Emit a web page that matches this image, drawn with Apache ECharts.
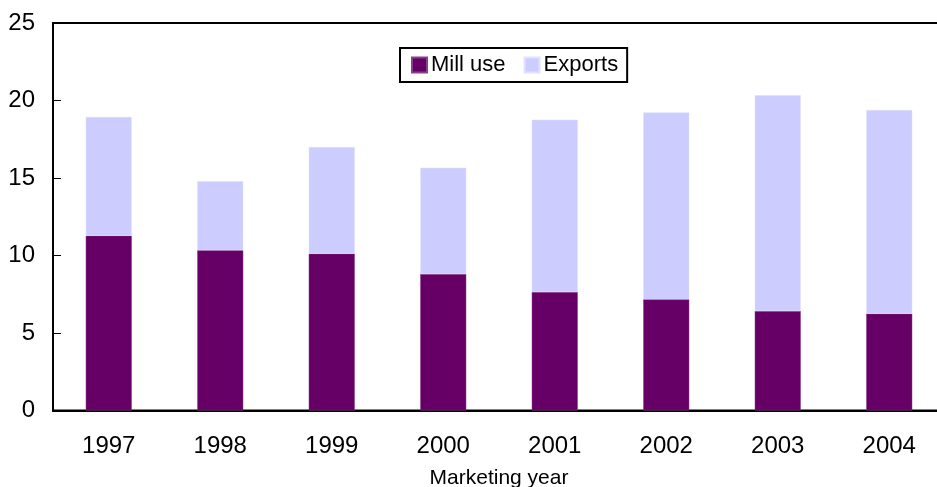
<!DOCTYPE html>
<html>
<head>
<meta charset="utf-8">
<script src="https://cdn.jsdelivr.net/npm/echarts@6/dist/echarts.min.js"></script>
<style>html,body{margin:0;padding:0;background:#fff;}#c{width:937px;height:487px;}</style>
</head>
<body>
<div id="c"></div>
<script>
const categories = ['1997', '1998', '1999', '2000', '2001', '2002', '2003', '2004'];
const millUse = [11.28, 10.34, 10.12, 8.81, 7.65, 7.17, 6.42, 6.25];
const exportsVals = [7.66, 4.45, 6.88, 6.85, 11.11, 12.06, 13.92, 13.14];
const yTicks = [0, 5, 10, 15, 20, 25];

const chart = echarts.init(document.getElementById('c'), null, {renderer: 'canvas'});
const font = 'Liberation Sans, Arial, sans-serif';
chart.setOption({
  animation: false,
  backgroundColor: '#fff',
  textStyle: {fontFamily: font},
  grid: {left: 53, top: 23, bottom: 76.5, width: 892, show: true, borderColor: '#000', borderWidth: 2,
         containLabel: false, outerBoundsMode: 'none'},
  legend: {
    data: ['Mill use', 'Exports'],
    left: 400, top: 48,
    padding: [6, 9, 6, 11],
    borderColor: '#000', borderWidth: 2,
    itemWidth: 15, itemHeight: 15, itemGap: 18,
    icon: 'rect',
    textStyle: {fontSize: 22, color: '#000', fontFamily: font, padding: [0, 0, 0, -1]}
  },
  xAxis: {
    type: 'category',
    data: categories,
    name: 'Marketing year',
    nameLocation: 'middle',
    nameGap: 57,
    nameTextStyle: {fontSize: 21, color: '#000', fontFamily: font, verticalAlign: 'top'},
    axisLine: {lineStyle: {color: '#000', width: 2}},
    axisTick: {inside: true, length: 8, lineStyle: {color: '#000', width: 1}},
    axisLabel: {fontSize: 24, color: '#000', margin: 24, fontFamily: font}
  },
  yAxis: {
    type: 'value',
    min: yTicks[0], max: yTicks[yTicks.length - 1], interval: 5,
    splitLine: {show: false},
    axisLine: {show: true, lineStyle: {color: '#000', width: 2}},
    axisTick: {show: true, inside: true, length: 8, lineStyle: {color: '#000', width: 1}},
    axisLabel: {fontSize: 24, color: '#000', margin: 18, fontFamily: font}
  },
  series: [
    {name: 'Mill use', type: 'bar', stack: 't', data: millUse, barWidth: 46,
     itemStyle: {color: '#660066', borderColor: '#8a3f8a', borderWidth: 0.5}},
    {name: 'Exports', type: 'bar', stack: 't', data: exportsVals, barWidth: 46,
     itemStyle: {color: '#CCCCFF', borderColor: '#e0e0ff', borderWidth: 0.5}}
  ]
});
</script>
</body>
</html>
